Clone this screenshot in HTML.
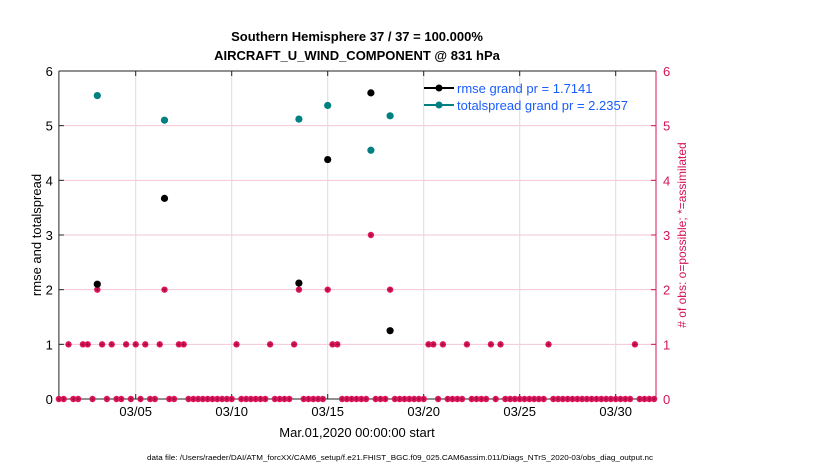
<!DOCTYPE html>
<html><head><meta charset="utf-8">
<style>
body{margin:0;background:#fff;font-family:"Liberation Sans",sans-serif;}
svg{display:block}
</style></head>
<body>
<svg id="chart" width="830" height="470" xmlns="http://www.w3.org/2000/svg">
  <text x="357" y="41" text-anchor="middle" font-size="13" font-weight="bold">Southern Hemisphere 37 / 37 = 100.000%</text>
  <text x="357" y="60" text-anchor="middle" font-size="13" font-weight="bold">AIRCRAFT_U_WIND_COMPONENT @ 831 hPa</text>
  <g id="grid"></g>
  <g id="axes"></g>
  <g id="marks"></g>
  <text transform="translate(41,235) rotate(-90)" text-anchor="middle" font-size="13">rmse and totalspread</text>
  <text transform="translate(686,235) rotate(-90)" text-anchor="middle" font-size="12" fill="#d4145a"># of obs: o=possible; *=assimilated</text>
  <text x="357" y="437" text-anchor="middle" font-size="13">Mar.01,2020 00:00:00 start</text>
  <text x="400" y="460" text-anchor="middle" font-size="7.6" textLength="506" lengthAdjust="spacingAndGlyphs">data file: /Users/raeder/DAI/ATM_forcXX/CAM6_setup/f.e21.FHIST_BGC.f09_025.CAM6assim.011/Diags_NTrS_2020-03/obs_diag_output.nc</text>
  <g>
    <line x1="424" y1="88" x2="454" y2="88" stroke="#000" stroke-width="2"/>
    <circle cx="439" cy="88" r="3.5" fill="#000"/>
    <text x="457" y="93" font-size="13" fill="#1a5cff">rmse grand pr = 1.7141</text>
    <line x1="424" y1="105" x2="454" y2="105" stroke="#008080" stroke-width="2"/>
    <circle cx="439" cy="105" r="3.5" fill="#008080"/>
    <text x="457" y="110" font-size="13" fill="#1a5cff">totalspread grand pr = 2.2357</text>
  </g>
</svg>
<script>
const xTickLabels = ["03/05","03/10","03/15","03/20","03/25","03/30"];
const xTickDays = [4,9,14,19,24,29];
const yTicks = [0,1,2,3,4,5,6];
const sampleDays = [2,5.5,12.5,14,16.25,17.25];
const rmseValues = [2.1,3.67,2.12,4.38,5.6,1.25];
const spreadValues = [5.55,5.1,5.12,5.37,4.55,5.18];
const obsCounts = [
0,0,1,0,0,1,1,0,2,1,0,1,0,0,1,0,1,0,1,0,0,1,2,0,0,1,1,0,0,0,
0,0,0,0,0,0,0,1,0,0,0,0,0,0,1,0,0,0,0,1,2,0,0,0,0,0,2,1,1,0,
0,0,0,0,0,3,0,0,0,2,0,0,0,0,0,0,0,1,1,0,1,0,0,0,0,1,0,0,0,0,
1,0,1,0,0,0,0,0,0,0,0,0,1,0,0,0,0,0,0,0,0,0,0,0,0,0,0,0,0,0,
1,0,0,0,0];

const NS="http://www.w3.org/2000/svg";
const L=58.9,R=656,T=71,B=399,PXD=19.2;
const xs=d=>L+d*PXD;
const ys=v=>B-(v/6)*(B-T);
function mk(tag,attrs,parent){const e=document.createElementNS(NS,tag);for(const k in attrs)e.setAttribute(k,attrs[k]);parent.appendChild(e);return e;}
const grid=document.getElementById('grid'),axes=document.getElementById('axes'),marks=document.getElementById('marks');

yTicks.forEach(v=>{
  if(v>0&&v<6){const g=mk('line',{x1:L,x2:R,y1:ys(v),y2:ys(v),stroke:'#f5c6d6','stroke-width':1},grid);
  
  }
  const t=mk('text',{x:L-6,y:ys(v)+5,'text-anchor':'end','font-size':13},axes);t.textContent=v;
  
  
  const t2=mk('text',{x:R+7,y:ys(v)+5,'font-size':13,fill:'#d4145a'},axes);t2.textContent=v;
  
  
  mk('line',{x1:L,x2:L+5,y1:ys(v),y2:ys(v),stroke:'#222'},axes);
  mk('line',{x1:R-5,x2:R,y1:ys(v),y2:ys(v),stroke:'#d4145a'},axes);
});
xTickDays.forEach((d,i)=>{
  const g=mk('line',{x1:xs(d),x2:xs(d),y1:T,y2:B,stroke:'#ddd'},grid);
  
  
  mk('line',{x1:xs(d),x2:xs(d),y1:B,y2:B-5,stroke:'#222'},axes);
  mk('line',{x1:xs(d),x2:xs(d),y1:T,y2:T+5,stroke:'#222'},axes);
  const t=mk('text',{x:xs(d),y:B+17,'text-anchor':'middle','font-size':13},axes);t.textContent=xTickLabels[i];
  
  
});
mk('line',{x1:L,x2:R,y1:T,y2:T,stroke:'#222'},axes);
mk('line',{x1:L,x2:R,y1:B,y2:B,stroke:'#222'},axes);
mk('line',{x1:L,x2:L,y1:T,y2:B,stroke:'#222'},axes);
mk('line',{x1:R,x2:R,y1:T,y2:B,stroke:'#d4145a'},axes);

obsCounts.forEach((c,i)=>{
  const cx=xs(i*0.25),cy=ys(c);
  const g=mk('g',{},marks);
  
  
  mk('circle',{cx:cx,cy:cy,r:3.2,fill:'#e8185f'},g);
  mk('path',{d:`M${cx-2.5} ${cy}H${cx+2.5}M${cx} ${cy-2.5}V${cy+2.5}M${cx-1.8} ${cy-1.8}L${cx+1.8} ${cy+1.8}M${cx-1.8} ${cy+1.8}L${cx+1.8} ${cy-1.8}`,stroke:'#8a0a3a','stroke-width':0.45},g);
});
sampleDays.forEach((d,i)=>{
  const r=mk('circle',{cx:xs(d),cy:ys(rmseValues[i]),r:3.6,fill:'#000'},marks);
  
  
  const s=mk('circle',{cx:xs(d),cy:ys(spreadValues[i]),r:3.6,fill:'#008080'},marks);
  
  
});
</script>
</body></html>
